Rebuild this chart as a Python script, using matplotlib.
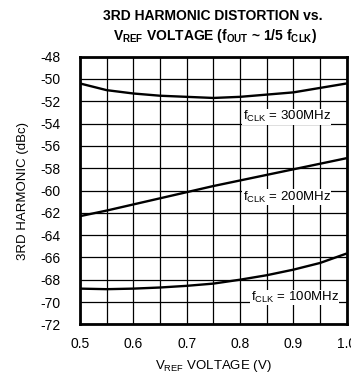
import numpy as np
import matplotlib
matplotlib.use("Agg")
import matplotlib.pyplot as plt

plt.rcParams['font.family'] = ['Liberation Sans', 'DejaVu Sans']

# data
vref = [0.5, 0.55, 0.6, 0.65, 0.7, 0.75, 0.8, 0.85, 0.9, 0.95, 1.0]
h3_300 = [-50.4, -51.0, -51.3, -51.5, -51.6, -51.7, -51.6, -51.4, -51.2, -50.8, -50.4]
h3_200 = [-62.3, -61.8, -61.25, -60.7, -60.15, -59.6, -59.1, -58.6, -58.1, -57.6, -57.1]
h3_100 = [-68.8, -68.85, -68.8, -68.7, -68.55, -68.35, -68.0, -67.6, -67.1, -66.5, -65.65]
labels = ['f$_{\\mathregular{CLK}}$ = 300MHz', 'f$_{\\mathregular{CLK}}$ = 200MHz',
          'f$_{\\mathregular{CLK}}$ = 100MHz']
label_pos = [(0.97, -53.4), (0.97, -60.6), (0.985, -69.6)]

fig = plt.figure(figsize=(3.51, 3.74), dpi=100)
ax = fig.add_axes([80/351, (374 - 324.3)/374, 266.7/351, 267.6/374])

for ys in (h3_300, h3_200, h3_100):
    ax.plot(vref, ys, color='black', lw=1.7, zorder=3, solid_capstyle='butt')

for txt, (x, y) in zip(labels, label_pos):
    ax.text(x, y, txt, ha='right', va='center', fontsize=9.5, zorder=4,
            bbox=dict(facecolor='white', edgecolor='none', pad=0.3))

ax.set_xlim(0.5, 1.0)
ax.set_ylim(-72, -48)
ax.set_xticks(np.arange(0.5, 1.01, 0.1))
ax.set_xticklabels(['0.5', '0.6', '0.7', '0.8', '0.9', '1.0'])
ax.set_xticks(np.arange(0.55, 1.0, 0.1), minor=True)
ax.set_yticks(np.arange(-72, -47, 2))
ax.set_yticklabels([str(v) for v in range(-72, -47, 2)])
ax.tick_params(which='both', length=0, labelsize=10)
ax.tick_params(axis='y', pad=14)
ax.tick_params(axis='x', pad=9)
ax.set_axisbelow(True)
ax.grid(True, which='both', color='black', lw=0.9)
for s in ax.spines.values():
    s.set_linewidth(2)
    s.set_zorder(5)

ax.set_xlabel('V$_{\\mathregular{REF}}$ VOLTAGE (V)', fontsize=9.5, labelpad=5)
ax.set_ylabel('3RD HARMONIC (dBc)', fontsize=9.5, labelpad=8)
fig.text(213/351, 1 - 20/374, '3RD HARMONIC DISTORTION vs.',
         ha='center', va='baseline', fontsize=10, fontweight='bold')
fig.text(215/351, 1 - 40/374,
         'V$_{\\mathregular{REF}}$ VOLTAGE (f$_{\\mathregular{OUT}}$ ~ 1/5 f$_{\\mathregular{CLK}}$)',
         ha='center', va='baseline', fontsize=10, fontweight='bold')

fig.savefig('out.png', dpi=100)
